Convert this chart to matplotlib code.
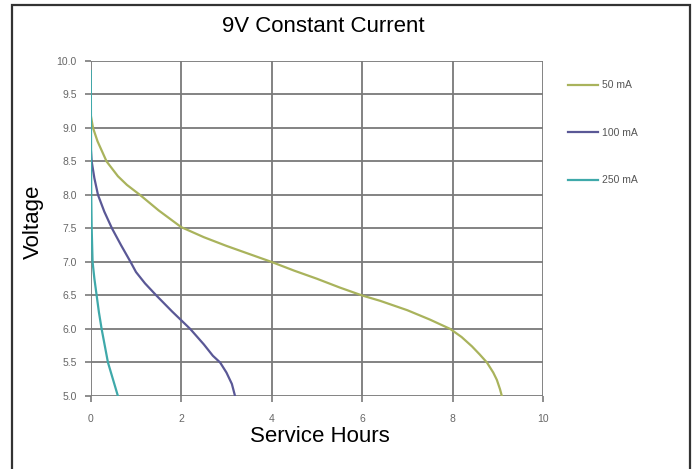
import matplotlib
matplotlib.use("Agg")
import matplotlib.pyplot as plt
from matplotlib.patches import Rectangle

plt.rcParams['font.family'] = ['Liberation Sans', 'DejaVu Sans']

# service hours / voltage
h50 = [0, 0.05, 0.15, 0.35, 0.6, 0.8, 1.09, 1.5, 2.0, 2.5, 3.0, 3.5, 4.0, 4.5, 5.0, 5.5, 6.0, 6.4,
       7.0, 7.5, 7.95, 8.2, 8.43, 8.6, 8.76, 8.9, 8.98, 9.05, 9.09]
v50 = [9.19, 9.0, 8.8, 8.5, 8.28, 8.15, 8.0, 7.77, 7.52, 7.37, 7.24, 7.12, 7.0, 6.87, 6.75, 6.62, 6.5, 6.42,
       6.28, 6.14, 6.0, 5.88, 5.74, 5.62, 5.5, 5.35, 5.24, 5.1, 5.0]
h100 = [0, 0.02, 0.08, 0.16, 0.3, 0.47, 0.67, 0.88, 1.0, 1.2, 1.45, 1.8, 2.2, 2.5, 2.7, 2.86, 3.0, 3.12, 3.19]
v100 = [8.7, 8.5, 8.25, 8.0, 7.75, 7.5, 7.25, 7.0, 6.85, 6.68, 6.5, 6.26, 6.0, 5.77, 5.6, 5.5, 5.35, 5.18, 5.0]
h250 = [0, 0.005, 0.01, 0.02, 0.04, 0.08, 0.13, 0.18, 0.24, 0.31, 0.38, 0.49, 0.6]
v250 = [9.85, 9.0, 8.0, 7.5, 7.0, 6.75, 6.5, 6.25, 6.0, 5.75, 5.5, 5.25, 5.0]

xticks = [0, 2, 4, 6, 8, 10]
yticks = [5.0, 5.5, 6.0, 6.5, 7.0, 7.5, 8.0, 8.5, 9.0, 9.5, 10.0]

fig = plt.figure(figsize=(6.94, 4.69), dpi=100)
fig.patches.append(Rectangle((12/694, -0.02), 678/694, 1.02 - 5/469,
                             transform=fig.transFigure, fill=False,
                             edgecolor='#333333', linewidth=1.6))

ax = fig.add_axes([0.1308, 0.1557, 0.6516, 0.7143])
ax.plot(h50, v50, color='#a9b35c', lw=1.6, label='50 mA')
ax.plot(h100, v100, color='#5a5896', lw=1.6, label='100 mA')
ax.plot(h250, v250, color='#3fa9aa', lw=1.6, label='250 mA')

ax.set_xlim(0, 10)
ax.set_ylim(5, 10)
ax.set_xticks(xticks)
ax.set_yticks(yticks)
ax.set_yticklabels([f'{t:.1f}' for t in yticks])
ax.grid(True, color='#7a7a7a', lw=1.3)
for s in ax.spines.values():
    s.set_visible(False)
ax.tick_params(axis='both', length=4, width=1.2, color='#7a7a7a',
               labelsize=7.5, labelcolor='#666666')
ax.tick_params(axis='y', pad=6)
ax.tick_params(axis='x', pad=9)

fig.text(323/694, 1 - 27/469, '9V Constant Current', ha='center', va='center', fontsize=16)
fig.text(33/694, 1 - 222/469, 'Voltage', rotation=90, ha='center', va='center', fontsize=16)
fig.text(320/694, 1 - 437/469, 'Service Hours', ha='center', va='center', fontsize=16)

leg = ax.legend(loc='upper left', bbox_to_anchor=(1.035, 0.97), frameon=False,
                handlelength=2.9, handletextpad=0.3, labelspacing=3.6,
                fontsize=7.5, labelcolor='#555555')

fig.savefig('out.png', dpi=100)
